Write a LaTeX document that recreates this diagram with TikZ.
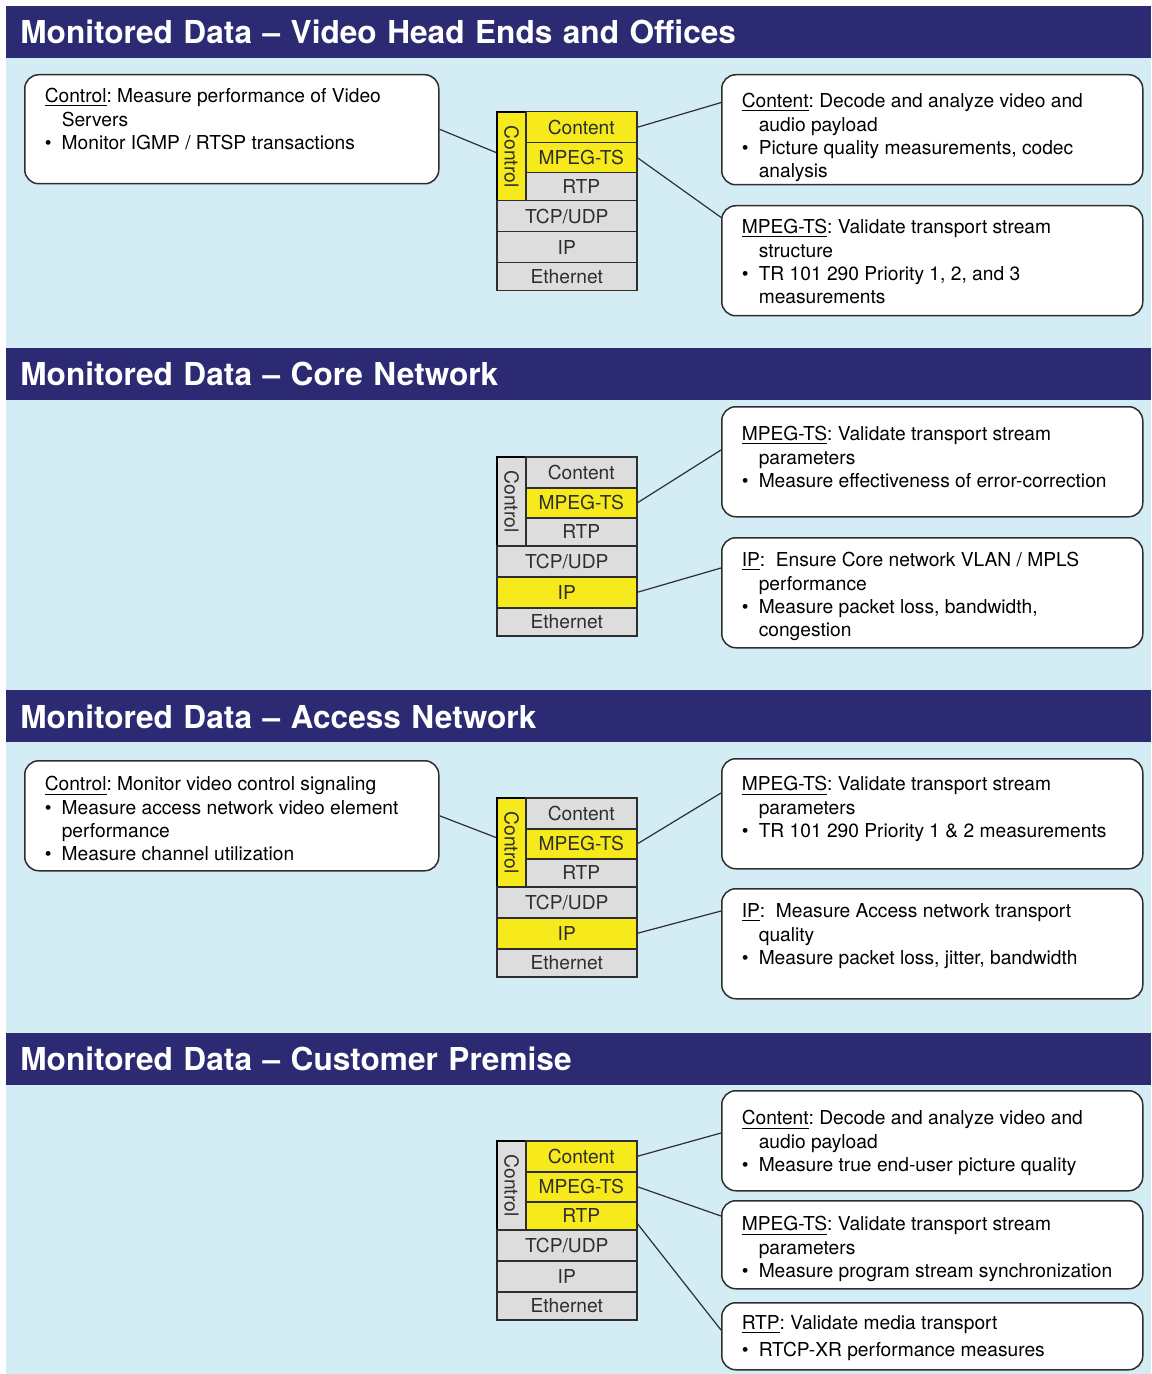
\documentclass[tikz,border=0pt]{standalone}
\usepackage{fontspec}
\setmainfont{TeX Gyre Heros}
\usepackage{graphicx}
\usetikzlibrary{positioning}
\frenchspacing

\definecolor{hdrblue}{HTML}{2B2A73}
\definecolor{bgblue}{HTML}{D4EDF4}
\definecolor{hiyellow}{HTML}{F6EA1C}
\definecolor{rowgray}{HTML}{DDDDDE}
\definecolor{inkgray}{HTML}{2E2E2E}

\tikzset{
  header/.style={fill=hdrblue, text=white, anchor=north west, inner ysep=0pt,
    inner xsep=7pt, minimum width=572.5pt, minimum height=26pt,
    text width=558.5pt, align=left, font=\fontsize{15.8}{18}\selectfont\bfseries},
  row/.style={draw=inkgray, line width=0.75pt, inner sep=0pt, anchor=north west,
    text=inkgray, font=\fontsize{9.6}{11}\selectfont},
  upper/.style={row, minimum width=55.5pt},
  lower/.style={row, minimum width=70pt},
  ctl/.style={row, draw=black, line width=1pt, minimum width=14.5pt, minimum height=44.5pt},
  infobox/.style={draw=inkgray, line width=0.75pt, rounded corners=7pt, fill=white,
    anchor=north west, inner sep=0pt, text=black, font=\fontsize{9.6}{11.7}\selectfont},
  link/.style={draw=inkgray, line width=0.6pt}
}

% bullet and hanging indent of the box texts
\newcommand{\bul}{\makebox[8.5pt][l]{\textbullet}}
\newcommand{\ind}{\hspace*{8.5pt}}
% width, height, first baseline, lines
\newcommand{\infotext}[4]{\parbox[c][#2][t]{#1}{\vspace*{\dimexpr#3-8.19pt\relax}%
  \hspace*{10pt}\begin{tabular}[t]{@{}l@{}}#4\end{tabular}}}

% protocol stack: prefix, top, control, content, mpeg-ts, rtp, ip
\newcommand{\pstack}[7]{%
  \node[ctl, fill=#3] (#1ctl) at (496,#2) {\rotatebox{-90}{Control}};
  \node[upper, fill=#4, minimum height=15.5pt] (#1cnt) at (525,#2) {Content};
  \node[upper, fill=#5, minimum height=15pt] (#1mpg) at (525,#2+31) {MPEG-TS};
  \node[upper, fill=#6, minimum height=14pt] (#1rtp) at (525,#2+61) {RTP};
  \node[lower, fill=rowgray, minimum height=15.5pt] (#1tcp) at (496,#2+89) {TCP/UDP};
  \node[lower, fill=#7, minimum height=15.5pt] (#1ip) at (496,#2+120) {IP};
  \node[lower, fill=rowgray, minimum height=14pt] (#1eth) at (496,#2+151) {Ethernet};
}

\begin{document}
\begin{tikzpicture}[x=0.5pt, y=-0.5pt]
      \useasboundingbox (0,0) rectangle (1151,1374);
      \fill[bgblue] (6,6) rectangle (1151,1374);

      % section headers
      \node[header] (h1) at (6,6)    {Monitored Data – Video Head Ends and Offices};
      \node[header] (h2) at (6,348)  {Monitored Data – Core Network};
      \node[header] (h3) at (6,690)  {Monitored Data – Access Network};
      \node[header] (h4) at (6,1033) {Monitored Data – Customer Premise};

      % video head ends and offices
      \pstack{s1}{111}{hiyellow}{hiyellow}{hiyellow}{rowgray}{rowgray}

      \node[infobox] (s1ctlbox) at (24,74) {\infotext{207pt}{54.5pt}{14pt}{%
        \underline{Control}: Measure performance of Video\\
        \ind Servers\\
        \bul Monitor IGMP / RTSP transactions}};
      \node[infobox] (s1cntbox) at (721,74) {\infotext{210.5pt}{55pt}{16.5pt}{%
        \underline{Content}: Decode and analyze video and\\
        \ind audio payload\\
        \bul Picture quality measurements, codec\\
        \ind analysis}};
      \node[infobox] (s1mpgbox) at (721,205) {\infotext{210.5pt}{55pt}{14pt}{%
        \underline{MPEG-TS}: Validate transport stream\\
        \ind structure\\
        \bul TR 101 290 Priority 1, 2, and 3\\
        \ind measurements}};

      \draw[link] (s1ctlbox.east) -- ([yshift=2pt]s1ctl.west);
      \draw[link] (s1cnt.east) -- ([yshift=-14.3pt]s1cntbox.north west);
      \draw[link] (s1mpg.east) -- ([yshift=-6.2pt]s1mpgbox.north west);

      % core network
      \pstack{s2}{456}{rowgray}{rowgray}{hiyellow}{rowgray}{hiyellow}

      \node[infobox] (s2mpgbox) at (721,406) {\infotext{210.5pt}{55pt}{17pt}{%
        \underline{MPEG-TS}: Validate transport stream\\
        \ind parameters\\
        \bul Measure effectiveness of error-correction}};
      \node[infobox] (s2ipbox) at (721,537) {\infotext{210.5pt}{55pt}{14.5pt}{%
        \underline{IP}:\ \ Ensure Core network VLAN / MPLS\\
        \ind performance\\
        \bul Measure packet loss, bandwidth,\\
        \ind congestion}};

      \draw[link] (s2mpg.east) -- ([yshift=-22pt]s2mpgbox.north west);
      \draw[link] (s2ip.east) -- ([yshift=-15.5pt]s2ipbox.north west);

      % access network
      \pstack{s3}{797}{hiyellow}{rowgray}{hiyellow}{rowgray}{hiyellow}

      \node[infobox] (s3ctlbox) at (24,760) {\infotext{207pt}{55pt}{15pt}{%
        \underline{Control}: Monitor video control signaling\\
        \bul Measure access network video element\\
        \ind performance\\
        \bul Measure channel utilization}};
      \node[infobox] (s3mpgbox) at (721,758) {\infotext{210.5pt}{55pt}{16pt}{%
        \underline{MPEG-TS}: Validate transport stream\\
        \ind parameters\\
        \bul TR 101 290 Priority 1 \& 2 measurements}};
      \node[infobox] (s3ipbox) at (721,888) {\infotext{210.5pt}{55pt}{14.5pt}{%
        \underline{IP}:\ \ Measure Access network transport\\
        \ind quality\\
        \bul Measure packet loss, jitter, bandwidth}};

      \draw[link] (s3ctlbox.east) -- ([yshift=2.5pt]s3ctl.west);
      \draw[link] (s3mpg.east) -- ([yshift=-17.5pt]s3mpgbox.north west);
      \draw[link] (s3ip.east) -- ([yshift=-11.5pt]s3ipbox.north west);

      % customer premise
      \pstack{s4}{1140}{rowgray}{hiyellow}{hiyellow}{hiyellow}{rowgray}

      \node[infobox] (s4cntbox) at (721,1090) {\infotext{210.5pt}{50pt}{17pt}{%
        \underline{Content}: Decode and analyze video and\\
        \ind audio payload\\
        \bul Measure true end-user picture quality}};
      \node[infobox] (s4mpgbox) at (721,1200) {\infotext{210.5pt}{44pt}{15pt}{%
        \underline{MPEG-TS}: Validate transport stream\\
        \ind parameters\\
        \bul Measure program stream synchronization}};
      \node[infobox] (s4rtpbox) at (721,1302) {\infotext{210.5pt}{33.5pt}{13.5pt}{%
        \underline{RTP}: Validate media transport\\[1.5pt]
        \bul RTCP-XR performance measures}};

      \draw[link] (s4cnt.east) -- ([yshift=-21.5pt]s4cntbox.north west);
      \draw[link] (s4mpg.east) -- ([yshift=-8pt]s4mpgbox.north west);
      \draw[link] ([yshift=-4pt]s4rtp.east) -- ([yshift=-14pt]s4rtpbox.north west);
    \end{tikzpicture}
\end{document}
